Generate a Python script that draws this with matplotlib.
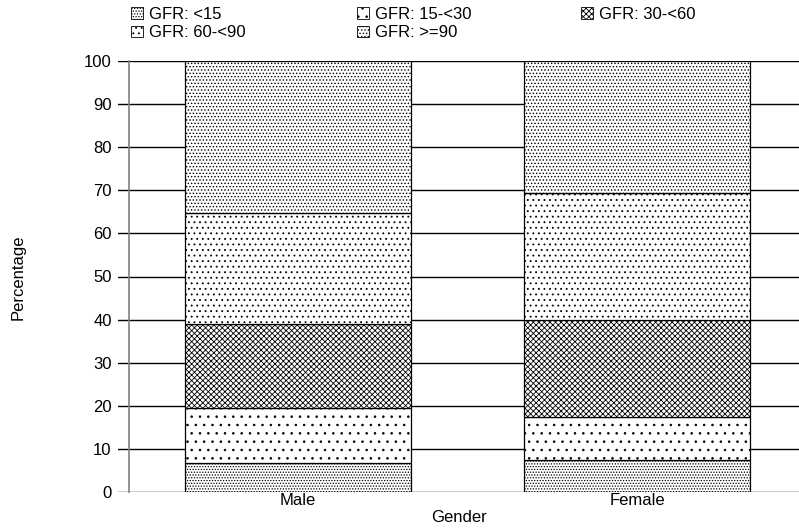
import matplotlib.pyplot as plt
from matplotlib.patches import Patch

plt.rcParams["font.family"] = ["Liberation Sans", "DejaVu Sans"]
plt.rcParams["hatch.linewidth"] = 0.6

genders = ["Male", "Female"]
groups = ["GFR: <15", "GFR: 15-<30", "GFR: 30-<60", "GFR: 60-<90", "GFR: >=90"]
male = [6.7, 12.8, 19.5, 25.7, 35.3]
female = [7.4, 10.0, 22.5, 29.5, 30.6]
hatches = ["......", "..", "xxxxxx", "...", "....."]

fig = plt.figure(figsize=(7.99, 5.30), dpi=100)
ax = fig.add_axes([118 / 799, 38 / 530, 681 / 799, 431 / 530])

x = [0, 1]
bottoms = [0, 0]
for i, name in enumerate(groups):
    vals = [male[i], female[i]]
    ax.bar(x, vals, width=0.667, bottom=bottoms, color="white",
           edgecolor="black", linewidth=0.9, hatch=hatches[i], zorder=3)
    bottoms = [b + v for b, v in zip(bottoms, vals)]

ax.set_ylim(0, 100)
ax.set_xlim(-0.531, 1.478)
ax.set_yticks(range(0, 101, 10))
ax.set_xticks(x)
ax.set_xticklabels(genders)
ax.yaxis.grid(True, color="black", linewidth=1.0, zorder=0)
ax.set_axisbelow(True)
ax.tick_params(axis="both", length=0, labelsize=12)
ax.tick_params(axis="y", pad=12.5)
ax.tick_params(axis="x", pad=1)
for s in ["top", "right", "bottom"]:
    ax.spines[s].set_visible(False)
ax.spines["left"].set_position(("axes", 11 / 681))
ax.spines["left"].set_color("grey")
ax.spines["left"].set_linewidth(1.2)

ax.set_xlabel("Gender", fontsize=12, labelpad=1)
fig.text(18 / 799, 1 - 277 / 530, "Percentage", rotation=90, fontsize=12,
         ha="center", va="center")

# legend: three columns placed by hand
columns = [[0, 3], [1, 4], [2]]
col_x = [131, 357, 581]
for cx, col in zip(col_x, columns):
    handles = [Patch(facecolor="white", edgecolor="black", linewidth=0.6,
                     hatch=hatches[k]) for k in col]
    labels = [groups[k] for k in col]
    fig.legend(handles, labels, loc="upper left",
               bbox_to_anchor=(cx / 799, 1 - 7 / 530), frameon=False,
               fontsize=12, handlelength=0.7, handleheight=0.7,
               handletextpad=0.4, labelspacing=0.2, borderpad=0,
               borderaxespad=0)

fig.savefig("out.png", dpi=100)
